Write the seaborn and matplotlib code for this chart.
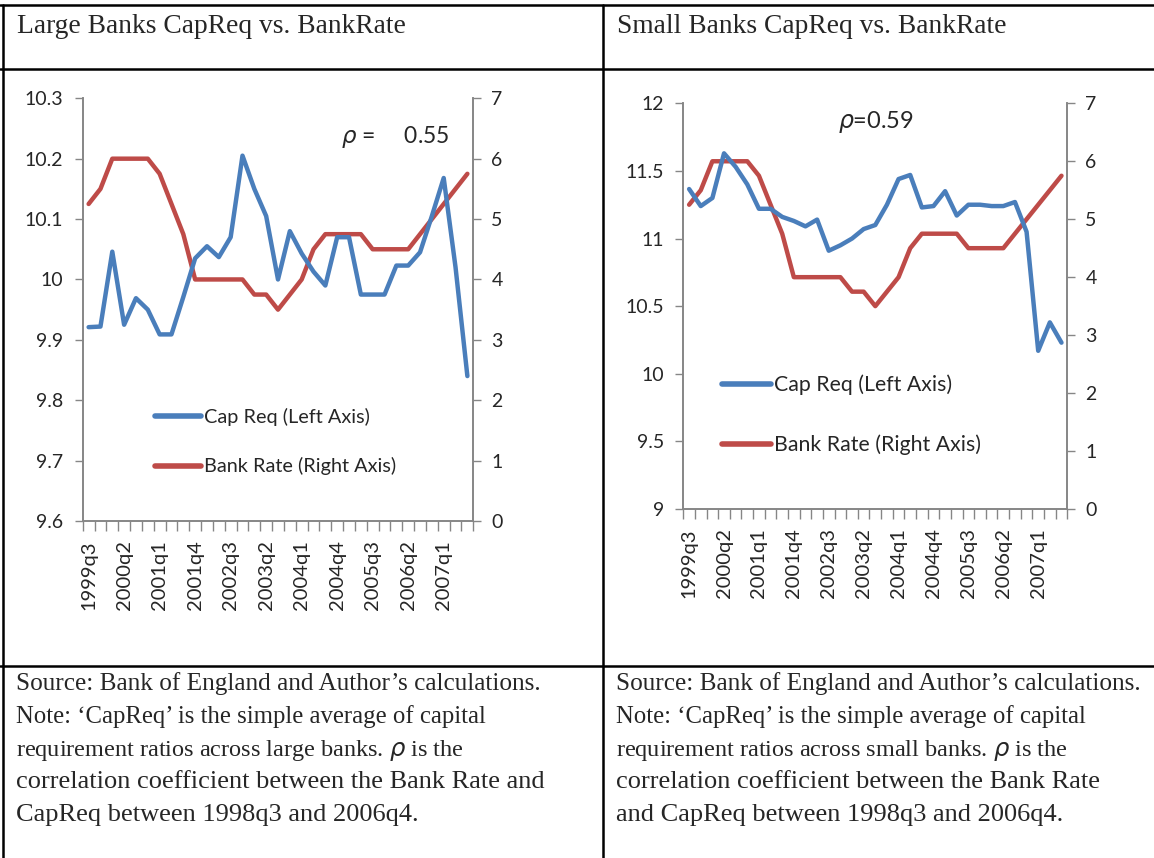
import matplotlib
matplotlib.use("Agg")
import matplotlib.pyplot as plt
import seaborn as sns
import pandas as pd
from matplotlib.lines import Line2D

# ---------------- data ----------------
quarters = ["1999q3", "1999q4", "2000q1", "2000q2", "2000q3", "2000q4", "2001q1",
            "2001q2", "2001q3", "2001q4", "2002q1", "2002q2", "2002q3", "2002q4",
            "2003q1", "2003q2", "2003q3", "2003q4", "2004q1", "2004q2", "2004q3",
            "2004q4", "2005q1", "2005q2", "2005q3", "2005q4", "2006q1", "2006q2",
            "2006q3", "2006q4", "2007q1", "2007q2", "2007q3"]

bank_rate = [5.25, 5.5, 6.0, 6.0, 6.0, 6.0, 5.75, 5.25, 4.75, 4.0, 4.0, 4.0, 4.0, 4.0,
             3.75, 3.75, 3.5, 3.75, 4.0, 4.5, 4.75, 4.75, 4.75, 4.75, 4.5, 4.5, 4.5,
             4.5, 4.75, 5.0, 5.25, 5.5, 5.75]

large_capreq = [9.921, 9.922, 10.046, 9.925, 9.969, 9.950, 9.909, 9.909, 9.971, 10.035,
                10.055, 10.037, 10.070, 10.205, 10.150, 10.105, 10.000, 10.080, 10.043,
                10.013, 9.990, 10.070, 10.070, 9.975, 9.975, 9.975, 10.023, 10.023,
                10.045, 10.105, 10.168, 10.020, 9.840]

small_capreq = [11.366, 11.24, 11.30, 11.63, 11.53, 11.40, 11.22, 11.22, 11.16, 11.13,
                11.09, 11.14, 10.91, 10.95, 11.00, 11.07, 11.10, 11.25, 11.44, 11.47,
                11.23, 11.24, 11.35, 11.17, 11.25, 11.25, 11.24, 11.24, 11.27, 11.05,
                10.17, 10.38, 10.23]

titles = ["Large Banks CapReq vs. BankRate", "Small Banks CapReq vs. BankRate"]
rho_labels = [r"$\rho$ =     0.55", r"$\rho$=0.59"]
left_ticks = [[9.6, 9.7, 9.8, 9.9, 10.0, 10.1, 10.2, 10.3], [9.0, 9.5, 10.0, 10.5, 11.0, 11.5, 12.0]]
left_ticklabels = [["9.6", "9.7", "9.8", "9.9", "10", "10.1", "10.2", "10.3"],
                   ["9", "9.5", "10", "10.5", "11", "11.5", "12"]]
right_ticks = [0, 1, 2, 3, 4, 5, 6, 7]
legend_labels = ["Cap Req (Left Axis)", "Bank Rate (Right Axis)"]
captions = [
    ["Source: Bank of England and Author\u2019s calculations.",
     "Note: \u2018CapReq\u2019 is the simple average of capital",
     r"requirement ratios across large banks. $\rho$ is the",
     "correlation coefficient between the Bank Rate and",
     "CapReq between 1998q3 and 2006q4."],
    ["Source: Bank of England and Author\u2019s calculations.",
     "Note: \u2018CapReq\u2019 is the simple average of capital",
     r"requirement ratios across small banks. $\rho$ is the",
     "correlation coefficient between the Bank Rate",
     "and CapReq between 1998q3 and 2006q4."],
]
caption_sizes = [18.2, 17.8, 17.5, 19.0, 19.0]

# ---------------- style ----------------
sns.set_theme(style="white")
plt.rcParams["font.family"] = ["Lato", "DejaVu Sans"]
plt.rcParams["mathtext.fontset"] = "dejavusans"

BLUE = "#4a7ebb"
RED = "#be4b48"
GRAY = "#868686"

W, H = 1154, 858
fig = plt.figure(figsize=(W / 100, H / 100), dpi=100)
fig.patch.set_facecolor("white")


def fx(x):
    return x / W


def fy(y):
    return 1 - y / H


# table lines
for (x0, y0, x1, y1) in [(0, 5, W, 5), (0, 69, W, 69), (0, 666, W, 666),
                         (3, 5, 3, H), (603, 5, 603, H)]:
    fig.add_artist(Line2D([fx(x0), fx(x1)], [fy(y0), fy(y1)], color="black", lw=1.8,
                          transform=fig.transFigure))

# titles and captions
serif = ["Liberation Serif", "DejaVu Serif"]
for i, x0 in enumerate([17, 617]):
    fig.text(fx(x0), fy(33), titles[i], family=serif, fontsize=19.8, va="baseline",
             ha="left")
    for j, line in enumerate(captions[i]):
        fig.text(fx(x0 - 1), fy(690 + 32.8 * j), line, family=serif,
                 fontsize=caption_sizes[j], va="baseline", ha="left")

# chart boxes in pixels (left, right, top, bottom)
boxes = [(82.7, 473.3, 98.3, 521.0), (683.3, 1067.3, 103.3, 509.0)]
capdata = [large_capreq, small_capreq]
legend_pos = [(0.185, 0.188, 1.6, 14.3), (0.1, 0.232, 1.85, 15.3)]
rho_pos = [(0.80, 0.908, 16.5), (0.502, 0.955, 17)]

for i in range(2):
    l, r, t, b = boxes[i]
    ax = fig.add_axes([fx(l), fy(b), (r - l) / W, (b - t) / H])
    df = pd.DataFrame({"pos": range(len(quarters)), "quarter": quarters,
                       "capreq": capdata[i], "rate": bank_rate})
    sns.lineplot(data=df, x="pos", y="capreq", ax=ax, color=BLUE, lw=3.2)
    ax2 = ax.twinx()
    sns.lineplot(data=df, x="pos", y="rate", ax=ax2, color=RED, lw=3.2)
    ax.set_zorder(ax2.get_zorder() + 1)
    ax.patch.set_visible(False)

    ax.set_xlim(-0.5, len(quarters) - 0.5)
    ax.set_ylim(left_ticks[i][0], left_ticks[i][-1])
    ax.set_yticks(left_ticks[i])
    ax.set_yticklabels(left_ticklabels[i])
    ax2.set_ylim(0, 7)
    ax2.set_yticks(right_ticks)
    ax2.set_yticklabels([str(v) for v in right_ticks])

    ax.set_xticks(list(range(0, len(quarters), 3)))
    ax.set_xticklabels(quarters[::3], rotation=90)
    ax.set_xticks([k - 0.5 for k in range(len(quarters) + 1)], minor=True)
    ax.tick_params(axis="x", which="major", length=0, labelsize=14.5, pad=14)
    ax.tick_params(axis="x", which="minor", length=7, width=1, color=GRAY, bottom=True)
    ax.tick_params(axis="y", length=6, width=1, color=GRAY, labelsize=14, pad=8,
                   left=True)
    ax2.tick_params(axis="y", length=6, width=1, color=GRAY, labelsize=14, pad=7,
                    right=True)
    ax.set_xlabel("")
    ax.set_ylabel("")
    ax2.set_ylabel("")
    for a in (ax, ax2):
        a.spines["top"].set_visible(False)
        for s in ("left", "right", "bottom"):
            a.spines[s].set_color(GRAY)
            a.spines[s].set_linewidth(1.2)
    ax.grid(False)
    ax2.grid(False)

    handles = [Line2D([], [], color=BLUE, lw=4), Line2D([], [], color=RED, lw=4)]
    lx, ly, sp, lfs = legend_pos[i]
    ax.legend(handles, legend_labels, loc="center left", bbox_to_anchor=(lx, ly),
              frameon=False, fontsize=lfs, handlelength=2.3, handletextpad=0.15,
              labelspacing=sp, borderaxespad=0, borderpad=0)

    rx, ry, rfs = rho_pos[i]
    ax.text(rx, ry, rho_labels[i], transform=ax.transAxes, fontsize=rfs,
            ha="center", va="center")

fig.savefig("out.png", dpi=100, facecolor="white")
